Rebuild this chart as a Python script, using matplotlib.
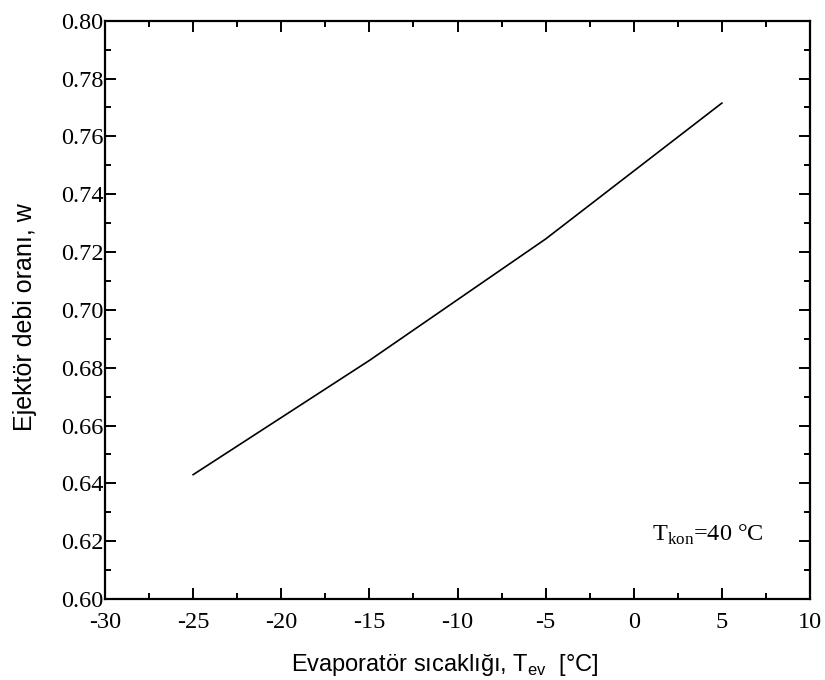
import matplotlib
matplotlib.use('Agg')
import matplotlib.pyplot as plt
from matplotlib.ticker import MultipleLocator, FormatStrFormatter

# Evaporator temperature vs ejector mass flow ratio (T_kon = 40 °C)
t_ev = [-25, -15, -5, 5]
w_ratio = [0.643, 0.6825, 0.7245, 0.7715]

plt.rcParams['axes.unicode_minus'] = False
plt.rcParams['mathtext.fontset'] = 'custom'
plt.rcParams['mathtext.rm'] = 'Liberation Serif'
plt.rcParams['mathtext.sf'] = 'Liberation Sans'

fig = plt.figure(figsize=(8.25, 6.8), dpi=100)
ax = fig.add_axes([0.1273, 0.1191, 0.8545, 0.8505])

ax.plot(t_ev, w_ratio, color='black', linewidth=1.2)

ax.set_xlim(-30, 10)
ax.set_ylim(0.60, 0.80)
ax.xaxis.set_major_locator(MultipleLocator(5))
ax.xaxis.set_minor_locator(MultipleLocator(2.5))
ax.yaxis.set_major_locator(MultipleLocator(0.02))
ax.yaxis.set_minor_locator(MultipleLocator(0.01))
ax.yaxis.set_major_formatter(FormatStrFormatter('%.2f'))

for s in ax.spines.values():
    s.set_linewidth(1.6)

ax.tick_params(which='both', direction='in', top=True, right=True, width=1.4)
ax.tick_params(which='major', length=8)
ax.tick_params(which='minor', length=4.5)
ax.tick_params(axis='x', which='major', pad=9)
ax.tick_params(axis='y', which='major', pad=1)
for lbl in ax.get_xticklabels() + ax.get_yticklabels():
    lbl.set_fontfamily('Liberation Serif')
    lbl.set_fontsize(17.5)

ax.set_xlabel('Evaporatör sıcaklığı, T$_\\mathsf{ev}$  [°C]',
              fontfamily='Liberation Sans', fontsize=17, labelpad=14)
ax.set_ylabel('Ejektör debi oranı, w', fontfamily='Liberation Sans',
              fontsize=18, labelpad=17)
ax.xaxis.label.set_x(0.482)
ax.yaxis.label.set_y(0.488)

ax.text(4.2, 0.622, 'T$_\\mathrm{kon}$=40 °C', fontfamily='Liberation Serif',
        fontsize=17.5, ha='center', va='center')

fig.savefig('out.png', dpi=100)
